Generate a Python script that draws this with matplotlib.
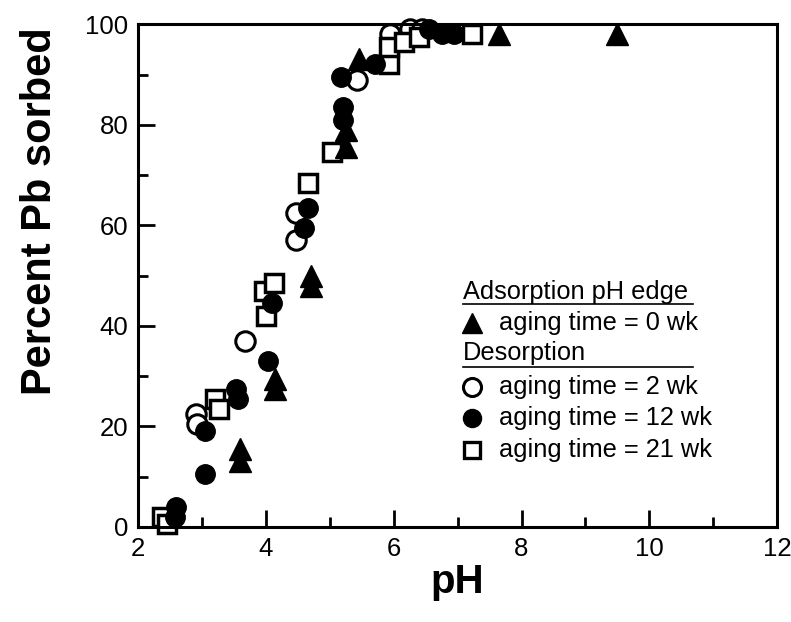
import matplotlib
matplotlib.use("Agg")
import matplotlib.pyplot as plt
from matplotlib.ticker import MultipleLocator

plt.rcParams["font.family"] = ["Liberation Sans", "DejaVu Sans"]

# Adsorption pH edge, aging time = 0 wk
ph_0wk = [3.6, 3.6, 4.15, 4.15, 4.7, 4.7, 5.25, 5.25, 5.45, 7.65, 9.5]
pb_0wk = [15.5, 13.0, 29.5, 27.5, 50.0, 48.0, 75.5, 79.0, 93.0, 98.0, 98.0]

# Desorption, aging time = 2 wk
ph_2wk = [2.9, 2.93, 3.68, 4.47, 4.47, 5.42, 5.94, 6.25, 6.45]
pb_2wk = [22.5, 20.5, 37.0, 62.5, 57.0, 89.0, 98.0, 99.0, 99.0]

# Desorption, aging time = 12 wk
ph_12wk = [2.58, 2.6, 3.05, 3.05, 3.53, 3.56, 4.03, 4.1, 4.6, 4.66,
           5.18, 5.21, 5.21, 5.7, 6.55, 6.75, 6.95]
pb_12wk = [2.0, 4.0, 10.5, 19.0, 27.5, 25.5, 33.0, 44.5, 59.5, 63.5,
           89.5, 83.5, 81.0, 92.0, 99.0, 98.0, 98.0]

# Desorption, aging time = 21 wk
ph_21wk = [2.38, 2.45, 3.21, 3.26, 3.97, 4.13, 4.0, 4.66, 5.04,
           5.92, 5.92, 6.16, 6.39, 7.23]
pb_21wk = [2.0, 0.5, 25.5, 23.5, 47.0, 48.5, 42.0, 68.5, 74.5,
           92.0, 95.5, 96.5, 97.5, 98.0]

fig = plt.figure(figsize=(7.91, 6.22), dpi=100)
ax = fig.add_axes([0.1745, 0.153, 0.808, 0.808])

ax.plot(ph_2wk, pb_2wk, "o", ms=14, mfc="white", mec="black", mew=2.2, clip_on=False)
ax.plot(ph_21wk, pb_21wk, "s", ms=12.5, mfc="white", mec="black", mew=2.5, clip_on=False)
ax.plot(ph_12wk, pb_12wk, "o", ms=14, color="black", clip_on=False)
ax.plot(ph_0wk, pb_0wk, "^", ms=15.5, color="black", clip_on=False)

ax.set_xlim(2, 12)
ax.set_ylim(0, 100)
ax.xaxis.set_major_locator(MultipleLocator(2))
ax.xaxis.set_minor_locator(MultipleLocator(1))
ax.yaxis.set_major_locator(MultipleLocator(20))
ax.yaxis.set_minor_locator(MultipleLocator(10))
ax.tick_params(which="both", direction="in", width=2, top=False, right=False,
               labelsize=18.5, pad=7)
ax.tick_params(which="major", length=12)
ax.tick_params(which="minor", length=7)
for spine in ax.spines.values():
    spine.set_linewidth(2.2)

ax.set_xlabel("pH", fontsize=29, fontweight="bold", labelpad=2)
fig.text(0.051, 0.66, "Percent Pb sorbed", rotation=90, fontsize=30,
         fontweight="bold", ha="center", va="center")

# hand-made legend
tx = 0.509
fs = 18.3
ax.text(tx, 0.467, "Adsorption pH edge", transform=ax.transAxes, fontsize=fs, va="center")
ax.plot([tx, 0.869], [0.444, 0.444], transform=ax.transAxes, color="black", lw=1.2, clip_on=False)
ax.plot([0.523], [0.406], "^", transform=ax.transAxes, ms=14, color="black")
ax.text(0.565, 0.406, "aging time = 0 wk", transform=ax.transAxes, fontsize=fs, va="center")
ax.text(tx, 0.346, "Desorption", transform=ax.transAxes, fontsize=fs, va="center")
ax.plot([tx, 0.869], [0.318, 0.318], transform=ax.transAxes, color="black", lw=1.2, clip_on=False)
legend_rows = [
    (0.278, "aging time = 2 wk", dict(marker="o", ms=13, mfc="white", mec="black", mew=2.2)),
    (0.217, "aging time = 12 wk", dict(marker="o", ms=13, color="black")),
    (0.153, "aging time = 21 wk", dict(marker="s", ms=11.5, mfc="white", mec="black", mew=2.4)),
]
for y, label, style in legend_rows:
    ax.plot([0.523], [y], transform=ax.transAxes, ls="none", **style)
    ax.text(0.565, y, label, transform=ax.transAxes, fontsize=fs, va="center")

fig.savefig("out.png", dpi=100)
plt.close(fig)
